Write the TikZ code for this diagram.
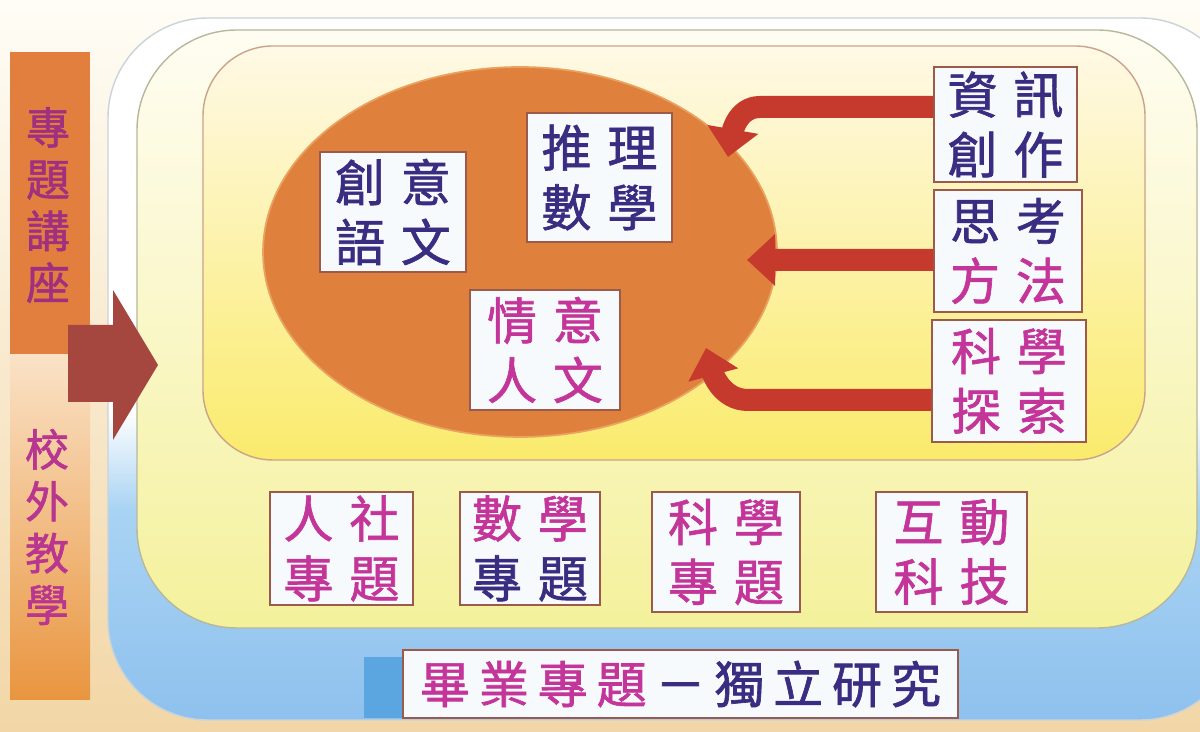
\documentclass[tikz,border=0pt]{standalone}
\usepackage{fontspec}
\newfontfamily\cjk[FakeBold=1.3]{Noto Sans CJK TC}
\usetikzlibrary{arrows.meta,shapes.geometric}
\definecolor{bgtop}{HTML}{FFFDF6}
\definecolor{bgbot}{HTML}{F2D6A6}
\definecolor{barorange}{HTML}{E27E3E}
\definecolor{barpeach}{HTML}{FAE2C6}
\definecolor{barorange2}{HTML}{E9953F}
\definecolor{oblue}{HTML}{8EC1EE}
\definecolor{oblueL}{HTML}{A9D3F3}
\definecolor{rimc}{HTML}{C9D3DA}
\definecolor{midtop}{HTML}{FFFDF2}
\definecolor{midbot}{HTML}{F4F19C}
\definecolor{midedge}{HTML}{B9B79A}
\definecolor{intop}{HTML}{FFF9E6}
\definecolor{inbot}{HTML}{FAEB6C}
\definecolor{inedge}{HTML}{C9A38A}
\definecolor{ellc}{HTML}{DF803D}
\definecolor{elledge}{HTML}{E9A260}
\definecolor{bigarrowc}{HTML}{A5473F}
\definecolor{redc}{HTML}{C63A2E}
\definecolor{boxedge}{HTML}{9C5A4A}
\definecolor{boxfill}{HTML}{F6FAFD}
\definecolor{mag}{HTML}{C4359A}
\definecolor{navy}{HTML}{3A2C80}
\definecolor{lefta}{HTML}{A0307F}
\definecolor{leftb}{HTML}{B83590}
\definecolor{sqblue}{HTML}{5BA6E0}
\pgfdeclareverticalshading{outershade}{100bp}{color(0bp)=(oblue); color(25bp)=(oblue); color(40bp)=(oblueL); color(47bp)=(white); color(100bp)=(white)}
\begin{document}
\begin{tikzpicture}[x=0.02cm,y=0.02cm,
  box/.style={draw=boxedge, line width=0.9pt, fill=boxfill, inner sep=0pt, align=center,
    font=\cjk\fontsize{28.5}{34}\selectfont, text=navy},
  lefttxt/.style={align=center, font=\cjk\fontsize{25}{29.5}\selectfont},
  redarrow/.style={draw=redc, line width=0.44cm, -{Triangle[length=0.56cm,width=1.0cm]}},
]
\newcommand{\g}{\hspace{9pt}}
\newcommand{\gb}{\hspace{5pt}}
\useasboundingbox (0,0) rectangle (1200,732);
\shade[top color=bgtop, bottom color=bgbot] (0,0) rectangle (1200,732);

% left bar
\fill[barorange] (10,377) rectangle (90,680);
\shade[top color=barpeach, bottom color=barorange2] (10,32) rectangle (90,377);

% nested panels
\shadedraw[shading=outershade, draw=rimc, line width=0.8pt, rounded corners=2cm] (108,12) rectangle (1240,714);
\shadedraw[top color=midtop, bottom color=midbot, draw=midedge, line width=0.8pt, rounded corners=2cm] (137,104) rectangle (1197,702);
\shadedraw[top color=intop, bottom color=inbot, draw=inedge, line width=0.8pt, rounded corners=1.4cm] (203,272) rectangle (1145,686);

% big arrow
\fill[bigarrowc] (68,407) -- (113,407) -- (113,442) -- (158,367) -- (113,292) -- (113,330) -- (68,330) -- cycle;

% left labels
\node[lefttxt, text=lefta] (lt1) at (48,527) {專\\題\\講\\座};
\node[lefttxt, text=leftb] (lt2) at (47,205) {校\\外\\教\\學};

% ellipse
\node[ellipse, fill=ellc, draw=elledge, line width=1pt, minimum width=10.28cm, minimum height=7.4cm, inner sep=0pt] (ell) at (520,480) {};

% boxes in ellipse
\node[box, minimum width=2.92cm, minimum height=2.4cm] (b1) at (393,520) {創\g 意\\語\g 文};
\node[box, minimum width=2.9cm, minimum height=2.58cm] (b2) at (599.5,554.5) {推\g 理\\數\g 學};
\node[box, minimum width=3.0cm, minimum height=2.4cm, text=mag] (b3) at (545,382) {情\g 意\\人\g 文};

% right boxes
\node[box, minimum width=2.86cm, minimum height=2.3cm] (r1) at (1005.5,607.5) {資\g 訊\\創\g 作};
\node[box, minimum width=2.96cm, minimum height=2.44cm] (r2) at (1008,481) {思\g 考\\\textcolor{mag}{方\g 法}};
\node[box, minimum width=3.08cm, minimum height=2.44cm, text=mag] (r3) at (1009,351) {科\g 學\\探\g 索};

% arrow tips
\coordinate (t1) at (728,575);
\coordinate (t2) at (747,472);
\coordinate (t3) at (706,384);

\draw[redarrow] ([yshift=0.35cm]r1.west) -- (760,625) to[out=180,in=80] (t1);
\draw[redarrow] ([yshift=-0.18cm]r2.west) -- (t2);
\draw[redarrow] ([yshift=-0.38cm]r3.west) -- (748,332) to[out=180,in=-75] (t3);

% bottom row
\node[box, minimum width=2.86cm, minimum height=2.26cm, text=mag] (s1) at (341.5,183.5) {人\g 社\\專\g 題};
\node[box, minimum width=2.8cm, minimum height=2.26cm, text=mag] (s2) at (530,183.5) {數\g 學\\\textcolor{navy}{專\g 題}};
\node[box, minimum width=2.96cm, minimum height=2.4cm, text=mag] (s3) at (726,180) {科\g 學\\專\g 題};
\node[box, minimum width=3.02cm, minimum height=2.4cm, text=mag] (s4) at (951.5,180) {互\g 動\\科\g 技};

% banner
\node[fill=sqblue, minimum width=0.76cm, minimum height=1.22cm, inner sep=0pt] (sq) at (383,44.5) {};
\node[box, minimum width=11.1cm, minimum height=1.36cm] (ban) at (680.5,48)
  {\textcolor{mag}{畢\gb 業\gb 專\gb 題}\gb －\gb 獨\gb 立\gb 研\gb 究};
\end{tikzpicture}
\end{document}
